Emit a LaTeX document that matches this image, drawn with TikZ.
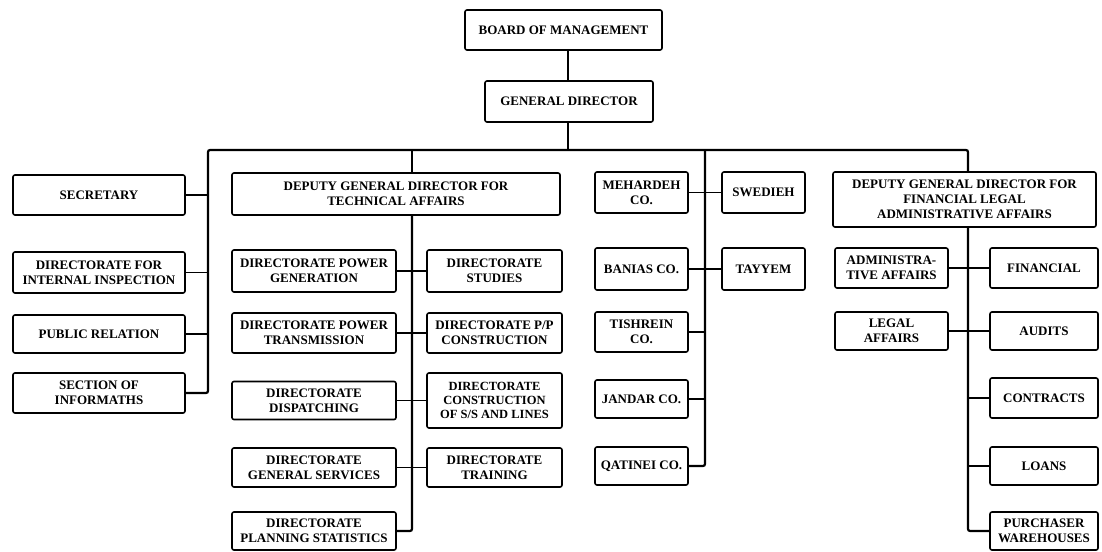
\documentclass[tikz,border=0pt]{standalone}
\usepackage{fontspec}
\setmainfont{Liberation Serif}
\begin{document}
\begin{tikzpicture}[x=1pt,y=-1pt,
  bx/.style={draw, line width=1.6pt, rounded corners=2pt, align=center, inner sep=1pt,
    font=\bfseries\fontsize{13}{15}\selectfont},
  link/.style={line width=1.3pt},
  trunk/.style={line width=2.2pt, rounded corners=2pt}]
\useasboundingbox (0,0) rectangle (1102,551);
\fill[white] (0,0) rectangle (1102,551);
% top
\node[bx, minimum width=197pt, minimum height=40pt] (bom) at (563.5,30) {BOARD OF MANAGEMENT};
\node[bx, minimum width=168pt, minimum height=41pt] (gd) at (569,101.5) {GENERAL DIRECTOR};
% left column
\node[bx, minimum width=172pt, minimum height=40pt] (sec) at (99,195) {SECRETARY};
\node[bx, minimum width=172pt, minimum height=41pt] (dii) at (99,272.5) {DIRECTORATE FOR\\INTERNAL INSPECTION};
\node[bx, minimum width=172pt, minimum height=38pt] (pr) at (99,334) {PUBLIC RELATION};
\node[bx, minimum width=172pt, minimum height=40pt] (soi) at (99,393) {SECTION OF\\INFORMATHS};
% technical
\node[bx, minimum width=328pt, minimum height=42pt] (dgt) at (396,194) {DEPUTY GENERAL DIRECTOR FOR\\TECHNICAL AFFAIRS};
\node[bx, minimum width=164pt, minimum height=42pt] (pg) at (314,271) {DIRECTORATE POWER\\GENERATION};
\node[bx, minimum width=164pt, minimum height=40pt] (pt) at (314,333) {DIRECTORATE POWER\\TRANSMISSION};
\node[bx, minimum width=164pt, minimum height=38pt] (dd) at (314,400.5) {DIRECTORATE\\DISPATCHING};
\node[bx, minimum width=164pt, minimum height=39pt] (gs) at (314,467.5) {DIRECTORATE\\GENERAL SERVICES};
\node[bx, minimum width=164pt, minimum height=38pt] (ps) at (314,531) {DIRECTORATE\\PLANNING STATISTICS};
\node[bx, minimum width=135pt, minimum height=42pt] (st) at (494.5,271) {DIRECTORATE\\STUDIES};
\node[bx, minimum width=135pt, minimum height=40pt] (ppc) at (494.5,333) {DIRECTORATE P/P\\CONSTRUCTION};
\node[bx, minimum width=135pt, minimum height=55pt, font=\bfseries\fontsize{12.5}{14}\selectfont] (css) at (494.5,400.5) {DIRECTORATE\\CONSTRUCTION\\OF S/S AND LINES};
\node[bx, minimum width=135pt, minimum height=39pt] (tr) at (494.5,467.5) {DIRECTORATE\\TRAINING};
% companies
\node[bx, minimum width=93pt, minimum height=41pt] (meh) at (641.5,192.5) {MEHARDEH\\CO.};
\node[bx, minimum width=93pt, minimum height=42pt] (ban) at (641.5,269) {BANIAS CO.};
\node[bx, minimum width=93pt, minimum height=40pt] (tis) at (641.5,332) {TISHREIN\\CO.};
\node[bx, minimum width=93pt, minimum height=38pt] (jan) at (641.5,399) {JANDAR CO.};
\node[bx, minimum width=93pt, minimum height=38pt] (qat) at (641.5,466) {QATINEI CO.};
\node[bx, minimum width=83pt, minimum height=41pt] (swe) at (763.5,192.5) {SWEDIEH};
\node[bx, minimum width=83pt, minimum height=42pt] (tay) at (763.5,269) {TAYYEM};
% financial
\node[bx, minimum width=263pt, minimum height=55pt] (dgf) at (964.5,199.5) {DEPUTY GENERAL DIRECTOR FOR\\FINANCIAL LEGAL\\ADMINISTRATIVE AFFAIRS};
\node[bx, minimum width=113pt, minimum height=40pt] (adm) at (891.5,268) {ADMINISTRA-\\TIVE AFFAIRS};
\node[bx, minimum width=113pt, minimum height=38pt] (leg) at (891.5,331) {LEGAL\\AFFAIRS};
\node[bx, minimum width=108pt, minimum height=40pt] (fin) at (1044,268) {FINANCIAL};
\node[bx, minimum width=108pt, minimum height=38pt] (aud) at (1044,331) {AUDITS};
\node[bx, minimum width=108pt, minimum height=40pt] (con) at (1044,398) {CONTRACTS};
\node[bx, minimum width=108pt, minimum height=38pt] (loa) at (1044,466) {LOANS};
\node[bx, minimum width=108pt, minimum height=38pt] (pur) at (1044,531) {PURCHASER\\WAREHOUSES};
% coordinates
\coordinate (busL) at (208,150);
\coordinate (busR) at (968,150);
\coordinate (busT) at (412,150);
\coordinate (busG) at (568,150);
\coordinate (tL) at (208,393);
\coordinate (tM) at (705,150);
% top connectors
\draw[trunk] (bom.south -| busG) -- (gd.north -| busG);
\draw[trunk] (gd.south -| busG) -- (busG);
\draw[trunk] (soi.east) -- (tL) -- (busL) -- (busR) -- (dgf.north -| busR);
\draw[trunk] (busT) -- (dgt.north -| busT);
% left column links
\draw[link] (sec.east) -- (sec.east -| busL);
\draw[link] (dii.east) -- (dii.east -| busL);
\draw[link] (pr.east) -- (pr.east -| busL);
% technical
\draw[trunk] (dgt.south -| busT) -- (ps.east -| busT) -- (ps.east);
\draw[link] (pg.east) -- (st.west);
\draw[link] (pt.east) -- (ppc.west);
\draw[link] (dd.east) -- (css.west);
\draw[link] (gs.east) -- (tr.west);
% companies
\draw[trunk] (tM) -- (qat.east -| tM) -- (qat.east);
\draw[link] (meh.east) -- (swe.west);
\draw[link] (ban.east) -- (tay.west);
\draw[link] (tis.east) -- (tis.east -| tM);
\draw[link] (jan.east) -- (jan.east -| tM);
% financial
\draw[trunk] (dgf.south -| busR) -- (pur.west -| busR) -- (pur.west);
\draw[link] (adm.east) -- (fin.west);
\draw[link] (leg.east) -- (aud.west);
\draw[link] (con.west) -- (con.west -| busR);
\draw[link] (loa.west) -- (loa.west -| busR);
\end{tikzpicture}
\end{document}
